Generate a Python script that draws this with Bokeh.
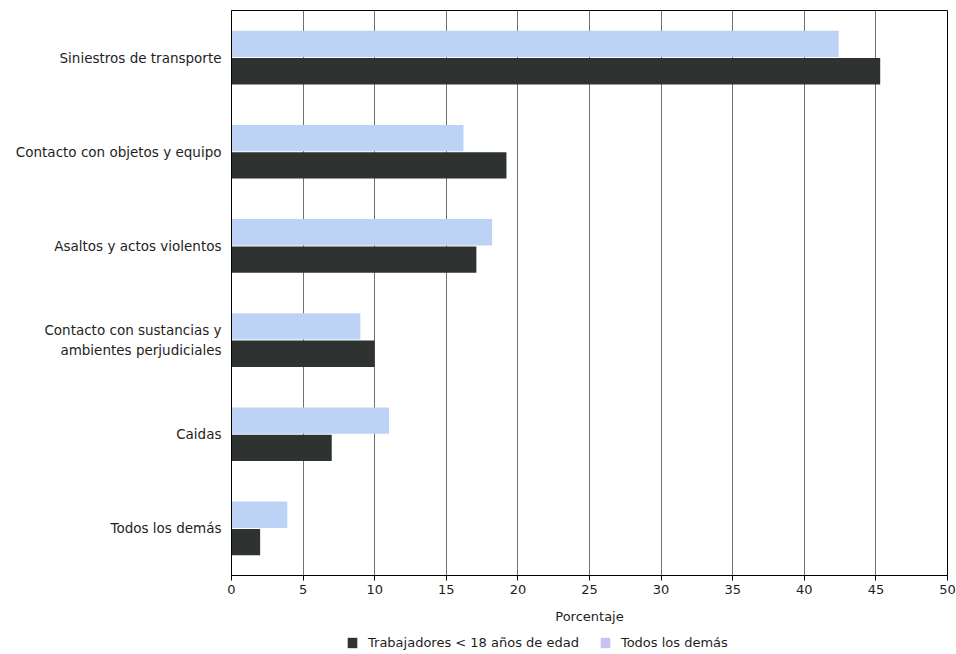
from bokeh.plotting import figure
from bokeh.layouts import column
from bokeh.models import FactorRange, Range1d, ColumnDataSource, Legend, LegendItem, FixedTicker
from bokeh.transform import dodge
from bokeh.embed import file_html
from bokeh.resources import INLINE

categories = [
    "Siniestros de transporte",
    "Contacto con objetos y equipo",
    "Asaltos y actos violentos",
    "Contacto con sustancias y\nambientes perjudiciales",
    "Caidas",
    "Todos los demás",
]
menores = [45.3, 19.2, 17.1, 10.0, 7.0, 2.0]
todos = [42.4, 16.2, 18.2, 9.0, 11.0, 3.9]
x_ticks = [0, 5, 10, 15, 20, 25, 30, 35, 40, 45, 50]
series_names = ["Trabajadores < 18 años de edad", "Todos los demás"]

DARK = "#2e3332"
LIGHT = "#bcd3f6"
LAVENDER = "#c4c4f2"
FONT = "DejaVu Sans"
TXT = "#1e1e1e"

source = ColumnDataSource(dict(cat=categories, menores=menores, todos=todos))

p = figure(
    width=956, height=632,
    y_range=FactorRange(factors=list(reversed(categories))),
    x_range=Range1d(0, 50),
    output_backend="svg", toolbar_location=None,
    min_border_left=231, min_border_right=9, min_border_top=10, min_border_bottom=57,
)
p.background_fill_color = "white"
p.border_fill_color = "white"
p.outline_line_color = "black"
p.outline_line_width = 1

r_light = p.hbar(y=dodge("cat", 0.145, range=p.y_range), right="todos", left=0, height=0.28,
                 source=source, fill_color=LIGHT, line_color=None)
r_dark = p.hbar(y=dodge("cat", -0.145, range=p.y_range), right="menores", left=0, height=0.28,
                source=source, fill_color=DARK, line_color=None)

p.xgrid.grid_line_color = "#707070"
p.xgrid.grid_line_width = 1
p.ygrid.grid_line_color = None

p.xaxis.ticker = FixedTicker(ticks=x_ticks)
p.xaxis.minor_tick_line_color = None
p.xaxis.major_tick_out = 5
p.xaxis.major_tick_in = 0
p.xaxis.major_tick_line_color = "black"
p.xaxis.axis_line_color = "black"
p.xaxis.major_label_standoff = 4
p.xaxis.major_label_text_font = FONT
p.xaxis.major_label_text_font_size = "13px"
p.xaxis.major_label_text_color = TXT
p.xaxis.axis_label = "Porcentaje"
p.xaxis.axis_label_text_font = FONT
p.xaxis.axis_label_text_font_style = "normal"
p.xaxis.axis_label_text_font_size = "13px"
p.xaxis.axis_label_text_color = TXT
p.xaxis.axis_label_standoff = 12

p.yaxis.major_tick_out = 0
p.yaxis.major_tick_in = 0
p.yaxis.axis_line_color = "black"
p.yaxis.major_label_standoff = 10
p.yaxis.major_label_text_font = FONT
p.yaxis.major_label_text_font_size = "13.5px"
p.yaxis.major_label_text_color = TXT

# legend strip below the chart (reference legend uses a lavender swatch)
q = figure(
    width=956, height=22,
    y_range=FactorRange(factors=list(reversed(categories))),
    x_range=Range1d(0, 50),
    output_backend="svg", toolbar_location=None,
    min_border_left=0, min_border_right=0, min_border_top=0, min_border_bottom=0,
)
q.xaxis.visible = False
q.yaxis.visible = False
q.xgrid.visible = False
q.ygrid.visible = False
q.outline_line_color = None
q.background_fill_color = "white"
q.border_fill_color = "white"
lg_dark = q.hbar(y=dodge("cat", -0.145, range=q.y_range), right="menores", left=0, height=0.28,
                 source=source, fill_color=DARK, line_color=None, visible=False)
lg_light = q.hbar(y=dodge("cat", 0.145, range=q.y_range), right="todos", left=0, height=0.28,
                  source=source, fill_color=LAVENDER, line_color=None, visible=False)

legend = Legend(
    items=[LegendItem(label=series_names[0], renderers=[lg_dark]),
           LegendItem(label=series_names[1], renderers=[lg_light])],
    orientation="horizontal", location=(115, 4), click_policy="none",
    border_line_color=None, background_fill_alpha=0,
    label_text_font=FONT, label_text_font_size="13px", label_text_color=TXT,
    glyph_width=12, glyph_height=13, label_height=14, spacing=20, padding=0, margin=0,
    label_standoff=10,
)
q.add_layout(legend, "center")

open("out.html", "w").write(file_html(column(p, q, spacing=0), INLINE))
